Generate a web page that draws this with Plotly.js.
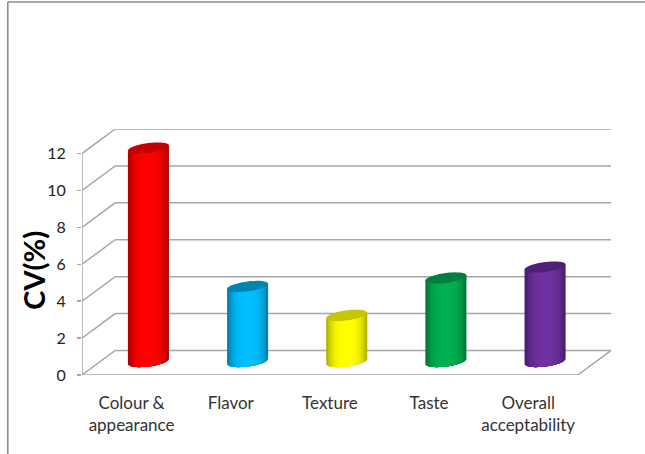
<!DOCTYPE html>
<html>
<head>
<meta charset="utf-8">
<script src="https://cdn.plot.ly/plotly-3.0.1.min.js"></script>
<style>html,body{margin:0;padding:0;background:#fff}#chart{width:645px;height:454px}</style>
</head>
<body>
<div id="chart"></div>
<script>
// Coefficient of variation per sensory attribute
const categories = ["Colour &<br>appearance", "Flavor", "Texture", "Taste", "Overall<br>acceptability"];
const cvValues = [11.57, 4.07, 2.5, 4.53, 5.12];
const yTicks = [0, 2, 4, 6, 8, 10, 12];

const centreColours = [[255,0,0],[0,191,255],[255,255,0],[0,176,80],[112,48,160]];
const edgeColours = [[176,0,0],[0,128,172],[178,178,0],[0,118,54],[72,30,108]];
const capColours = [[198,0,0],[0,132,176],[198,198,0],[0,128,62],[80,32,118]];

// Pseudo-3D frame: depth of the box in axis units, and where the bars stand inside it
const xMin = -0.5, xMax = 4.5, depthX = 0.335, depthY = 1.33;
const barShiftX = 0.17, barShiftY = 0.73;
const barHalf = 0.207, capHalfH = 0.27, capTilt = 0.14;
const bands = 12;

const rgb = c => `rgb(${c.map(Math.round).join(",")})`;
const mix = (a, b, t) => a.map((v, i) => v + (b[i] - v) * t);
const traces = [];

function line(xs, ys) {
  traces.push({type: "scatter", mode: "lines", x: xs, y: ys, cliponaxis: false, hoverinfo: "skip",
    showlegend: false, line: {color: "#a8a8a8", width: 1.5}});
}

// Back wall, side wall and floor
yTicks.forEach(v => {
  line([xMin, xMin + depthX, xMax + depthX], [v, v + depthY, v + depthY]);
});
line([xMin, xMin], [0, 12]);
line([xMin, xMax, xMax + depthX], [0, 0, depthY]);
for (let i = 0; i <= categories.length; i++) line([xMin + i, xMin + i], [0, -0.24]);

// Plain bars carry the values; cylinder shading is layered over them
traces.push({type: "bar", x: categories.map((_, i) => i + barShiftX), y: cvValues,
  base: cvValues.map(() => barShiftY), width: barHalf * 1.7, hoverinfo: "x+y", showlegend: false,
  marker: {color: centreColours.map(rgb), line: {width: 0}}});

function ellipseY(t, cy) { return cy + capHalfH * Math.sin(t) + capTilt * Math.cos(t); }

cvValues.forEach((v, i) => {
  const cx = i + barShiftX, bottom = barShiftY, top = barShiftY + v;
  for (let k = 0; k < bands; k++) {
    const u = 1 - k / bands;               // 1 at the rim, towards 0 at the middle
    const a = barHalf * u;
    const start = Math.acos(u);
    const xs = [], ys = [];
    // lower rim arc, left to right, then back along the top rim line
    for (let s = 0; s <= 16; s++) {
      const t = Math.PI + start + (Math.PI - 2 * start) * s / 16;
      xs.push(cx + barHalf * Math.cos(t)); ys.push(ellipseY(t, bottom));
    }
    xs.push(cx + a, cx - a);
    ys.push(top + capTilt * u, top - capTilt * u);
    traces.push({type: "scatter", mode: "none", x: xs, y: ys, fill: "toself", cliponaxis: false,
      hoverinfo: "skip", showlegend: false,
      fillcolor: rgb(mix(centreColours[i], edgeColours[i], Math.pow(u, 3.2)))});
  }
  const cxs = [], cys = [];
  for (let s = 0; s <= 40; s++) {
    const t = 2 * Math.PI * s / 40;
    cxs.push(cx + barHalf * Math.cos(t)); cys.push(ellipseY(t, top));
  }
  traces.push({type: "scatter", mode: "none", x: cxs, y: cys, fill: "toself", cliponaxis: false,
    hoverinfo: "skip", showlegend: false, fillcolor: rgb(capColours[i])});
});

const frameColour = "#8c8c8c";
const layout = {
  width: 645, height: 454, showlegend: false,
  paper_bgcolor: "#fff", plot_bgcolor: "#fff",
  margin: {l: 82, r: 34, t: 129, b: 79, pad: 0},
  font: {family: "Lato, Carlito, sans-serif", size: 17, color: "#333"},
  xaxis: {range: [xMin, xMax + depthX], tickmode: "array", tickvals: categories.map((_, i) => i),
    ticktext: categories, showgrid: false, zeroline: false, showline: false, ticks: "",
    ticklabelstandoff: 16, tickfont: {size: 17, color: "#333"}, fixedrange: true},
  yaxis: {range: [0, 12 + depthY], tickmode: "array", tickvals: yTicks, showgrid: false, zeroline: false,
    showline: false, ticks: "outside", ticklen: 4, tickcolor: "#a8a8a8", tickwidth: 1.5,
    ticklabelstandoff: 8, tickfont: {size: 16, color: "#222"}, fixedrange: true},
  annotations: [{text: "<b>CV(%)</b>", xref: "paper", yref: "y", x: -0.0907, y: 5.65, xanchor: "center", yanchor: "middle",
    showarrow: false, textangle: -90, font: {size: 29, color: "#000"}}],
  shapes: [
    {type: "line", xref: "paper", yref: "paper", x0: -0.1403, x1: -0.1403, y0: -0.321, y1: 1.516,
      line: {color: frameColour, width: 1.6}},
    {type: "line", xref: "paper", yref: "paper", x0: -0.1403, x1: 1.07, y0: 1.516, y1: 1.516,
      line: {color: frameColour, width: 1.6}}
  ],
  barmode: "overlay"
};

Plotly.newPlot("chart", traces, layout, {displayModeBar: false, staticPlot: true});
</script>
</body>
</html>
